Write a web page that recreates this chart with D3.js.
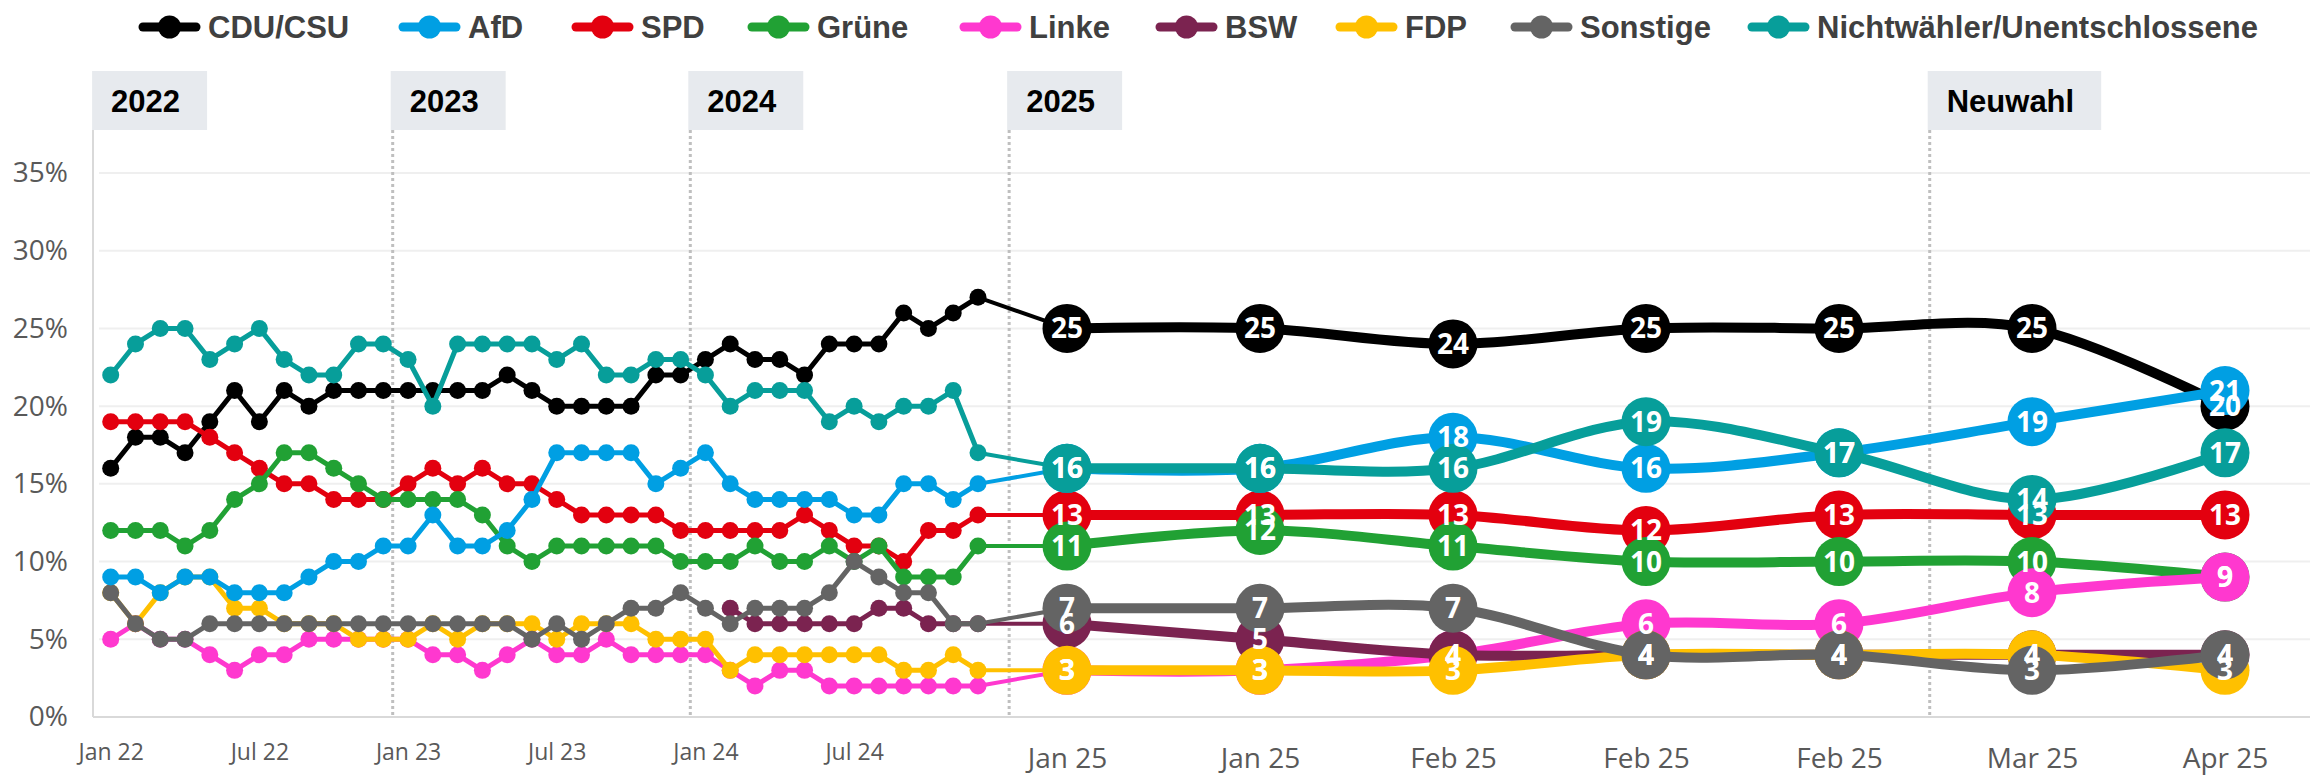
<!DOCTYPE html>
<html><head><meta charset="utf-8">
<script src="https://cdn.jsdelivr.net/npm/d3@7"></script>
<style>body{margin:0;background:#fff}svg{display:block}</style>
</head><body><svg id="c" width="2323" height="775"></svg>
<script>
// ---------------- DATA ----------------
const months = ["Jan 22","Feb 22","Mar 22","Apr 22","May 22","Jun 22","Jul 22","Aug 22","Sep 22","Oct 22","Nov 22","Dec 22",
                "Jan 23","Feb 23","Mar 23","Apr 23","May 23","Jun 23","Jul 23","Aug 23","Sep 23","Oct 23","Nov 23","Dec 23",
                "Jan 24","Feb 24","Mar 24","Apr 24","May 24","Jun 24","Jul 24","Aug 24","Sep 24","Oct 24","Nov 24","Dec 24"];
const finalRounds = ["Jan 25","Jan 25","Feb 25","Feb 25","Feb 25","Mar 25","Apr 25"];
const categories = months.concat(finalRounds);
const monthTickLabels = ["Jan 22","Jul 22","Jan 23","Jul 23","Jan 24","Jul 24"];
const yTicks = [0,5,10,15,20,25,30,35];
const periodLabels = ["2022","2023","2024","2025","Neuwahl"];

const seriesNames = ["CDU/CSU","AfD","SPD","Grüne","Linke","BSW","FDP","Sonstige","Nichtwähler/Unentschlossene"];
const seriesColors = ["#000000","#009FE3","#E3000F","#21A134","#FF38CF","#7B2350","#FFC000","#646464","#079E9A"];

const cduCsu = [16,18,18,17,19,21,19,21,20,21,21,21,21,21,21,21,22,21,20,20,20,20,22,22,23,24,23,23,22,24,24,24,26,25,26,27,
                25,25,24,25,25,25,20];
const afd    = [9,9,8,9,9,8,8,8,9,10,10,11,11,13,11,11,12,14,17,17,17,17,15,16,17,15,14,14,14,14,13,13,15,15,14,15,
                16,16,18,16,17,19,21];
const spd    = [19,19,19,19,18,17,16,15,15,14,14,14,15,16,15,16,15,15,14,13,13,13,13,12,12,12,12,12,13,12,11,11,10,12,12,13,
                13,13,13,12,13,13,13];
const gruene = [12,12,12,11,12,14,15,17,17,16,15,14,14,14,14,13,11,10,11,11,11,11,11,10,10,10,11,10,10,11,10,11,9,9,9,11,
                11,12,11,10,10,10,9];
const linke  = [5,6,5,5,4,3,4,4,5,5,5,5,5,4,4,3,4,5,4,4,5,4,4,4,4,3,2,3,3,2,2,2,2,2,2,2,
                3,3,4,6,6,8,9];
const bsw    = [null,null,null,null,null,null,null,null,null,null,null,null,null,null,null,null,null,null,null,null,null,null,null,null,null,
                7,6,6,6,6,6,7,7,6,6,6,
                6,5,4,4,4,4,4];
const fdp    = [8,6,8,9,9,7,7,6,6,6,5,5,5,6,5,6,6,6,5,6,6,6,5,5,5,3,4,4,4,4,4,4,3,3,4,3,
                3,3,3,4,4,4,3];
const sonstige = [8,6,5,5,6,6,6,6,6,6,6,6,6,6,6,6,6,5,6,5,6,7,7,8,7,6,7,7,7,8,10,9,8,8,6,6,
                7,7,7,4,4,3,4];
const nichtwaehler = [22,24,25,25,23,24,25,23,22,22,24,24,23,20,24,24,24,24,23,24,22,22,23,23,22,20,21,21,21,19,20,19,20,20,21,17,
                16,16,16,19,17,14,17];

const seriesValues = [cduCsu, afd, spd, gruene, linke, bsw, fdp, sonstige, nichtwaehler];
// drawing (z) order observed in the original
const drawOrder = ["CDU/CSU","SPD","Grüne","Linke","BSW","FDP","Sonstige","AfD","Nichtwähler/Unentschlossene"];

// ---------------- LAYOUT ----------------
const nMonths = months.length;          // 36
const lastIdx = categories.length - 1;  // 42
const svg = d3.select("#c");
const FONT = "'Open Sans', 'Noto Sans', sans-serif";
const BOLD = "'Liberation Sans', Arial, sans-serif";

const x = d3.scaleLinear()
  .domain([0, nMonths - 1, nMonths, lastIdx])
  .range([110.7, 978, 1067, 2225]);
const y = d3.scaleLinear().domain([0, 35]).range([717, 173]);

const plotLeft = 93, plotRight = 2310, plotTop = 130;

// gridlines
svg.append("g").selectAll("line").data(yTicks.filter(t => t > 0)).join("line")
  .attr("x1", 99).attr("x2", plotRight)
  .attr("y1", d => y(d)).attr("y2", d => y(d))
  .attr("stroke", "#EFEFEF").attr("stroke-width", 2);

// axis lines
svg.append("line").attr("x1", plotLeft).attr("x2", plotLeft).attr("y1", plotTop).attr("y2", y(0))
  .attr("stroke", "#D9D9D9").attr("stroke-width", 2);
svg.append("line").attr("x1", plotLeft).attr("x2", plotRight).attr("y1", y(0)).attr("y2", y(0))
  .attr("stroke", "#D9D9D9").attr("stroke-width", 2);

// y axis
const yAxis = svg.append("g").attr("transform", "translate(68,0)")
  .call(d3.axisLeft(y).tickValues(yTicks).tickSize(0).tickPadding(0).tickFormat(d => d + "%"));
yAxis.select(".domain").remove();
yAxis.selectAll("text").attr("font-family", FONT).attr("font-size", 28).attr("fill", "#595959");

// x axes
const smallTicks = monthTickLabels.map(l => categories.indexOf(l));
const xAxisSmall = svg.append("g").attr("transform", `translate(0,${y(0)})`)
  .call(d3.axisBottom(x).tickValues(smallTicks).tickSize(0).tickPadding(0).tickFormat(i => categories[i]));
xAxisSmall.select(".domain").remove();
xAxisSmall.selectAll("text").attr("font-family", FONT).attr("font-size", 23).attr("fill", "#595959")
  .attr("dy", null).attr("y", 43);

const bigTicks = d3.range(nMonths, lastIdx + 1);
const xAxisBig = svg.append("g").attr("transform", `translate(0,${y(0)})`)
  .call(d3.axisBottom(x).tickValues(bigTicks).tickSize(0).tickPadding(0).tickFormat(i => categories[i]));
xAxisBig.select(".domain").remove();
xAxisBig.selectAll("text").attr("font-family", FONT).attr("font-size", 28).attr("fill", "#595959")
  .attr("dy", null).attr("y", 51);

// period separators (position as fractional category index)
const periodPos = [-0.75, 11.38, 23.39, 35.35, 40.47];
periodLabels.forEach((lab, k) => {
  const px = x(periodPos[k]);
  if (k > 0) {
    svg.append("line").attr("x1", px).attr("x2", px).attr("y1", plotTop).attr("y2", y(0) - 1)
      .attr("stroke", "#BFBFBF").attr("stroke-width", 3).attr("stroke-dasharray", "3,3");
  }
  const bx = k > 0 ? px - 2 : px;
  const g = svg.append("g");
  const rect = g.append("rect").attr("x", bx).attr("y", 71).attr("height", 59).attr("fill", "#E7EAEE");
  const t = g.append("text").attr("x", bx + 19).attr("y", 112).text(lab)
    .attr("font-family", BOLD).attr("font-weight", "bold").attr("font-size", 31).attr("fill", "#000");
  const tw = t.node().getComputedTextLength();
  rect.attr("width", tw + 46);
});

// series
const seriesData = seriesNames.map((name, s) => ({
  name, color: seriesColors[s],
  pts: seriesValues[s].map((v, i) => ({ i, v }))
}));
const byName = Object.fromEntries(seriesData.map(d => [d.name, d]));

const lineStraight = d3.line().defined(d => d.v != null).x(d => x(d.i)).y(d => y(d.v));
const lineSmooth = d3.line().defined(d => d.v != null).x(d => x(d.i)).y(d => y(d.v))
  .curve(d3.curveCardinal.tension(0));

const gSeries = svg.append("g");
drawOrder.forEach(name => {
  const s = byName[name];
  const g = gSeries.append("g");
  const early = s.pts.filter(d => d.i < nMonths);
  const bridge = s.pts.filter(d => d.i === nMonths - 1 || d.i === nMonths);
  const late = s.pts.filter(d => d.i >= nMonths);
  g.append("path").attr("d", lineStraight(early)).attr("fill", "none")
    .attr("stroke", s.color).attr("stroke-width", 5).attr("stroke-linejoin", "round");
  if (bridge.every(d => d.v != null)) {
    g.append("path").attr("d", lineStraight(bridge)).attr("fill", "none")
      .attr("stroke", s.color).attr("stroke-width", 4);
  }
  g.selectAll("circle.small").data(early.filter(d => d.v != null)).join("circle")
    .attr("class", "small").attr("cx", d => x(d.i)).attr("cy", d => y(d.v)).attr("r", 8.5)
    .attr("fill", s.color);
  g.append("path").attr("d", lineSmooth(late)).attr("fill", "none")
    .attr("stroke", s.color).attr("stroke-width", 10).attr("stroke-linejoin", "round");
  g.selectAll("circle.big").data(late).join("circle")
    .attr("class", "big").attr("cx", d => x(d.i)).attr("cy", d => y(d.v)).attr("r", 24.5)
    .attr("fill", s.color);
});

// value labels on top
const gLabels = svg.append("g");
drawOrder.forEach(name => {
  const s = byName[name];
  gLabels.append("g").selectAll("text").data(s.pts.filter(d => d.i >= nMonths)).join("text")
    .attr("x", d => x(d.i)).attr("y", d => y(d.v) + 10)
    .attr("text-anchor", "middle")
    .attr("font-family", FONT).attr("font-weight", "bold").attr("font-size", 28)
    .attr("fill", "#fff").text(d => d.v);
});

// legend (item start positions as laid out in the original)
const legendX = [139, 399, 572, 748, 960, 1156, 1336, 1511, 1748];
seriesData.forEach((s, k) => {
  const g = svg.append("g").attr("transform", `translate(${legendX[k]},0)`);
  g.append("line").attr("x1", 4).attr("x2", 57).attr("y1", 27).attr("y2", 27)
    .attr("stroke", s.color).attr("stroke-width", 9).attr("stroke-linecap", "round");
  g.append("circle").attr("cx", 30.5).attr("cy", 27).attr("r", 11.5).attr("fill", s.color);
  g.append("text").attr("x", 69).attr("y", 38).text(s.name)
    .attr("font-family", BOLD).attr("font-weight", "bold").attr("font-size", 31).attr("fill", "#404040");
});
</script>
</body></html>
